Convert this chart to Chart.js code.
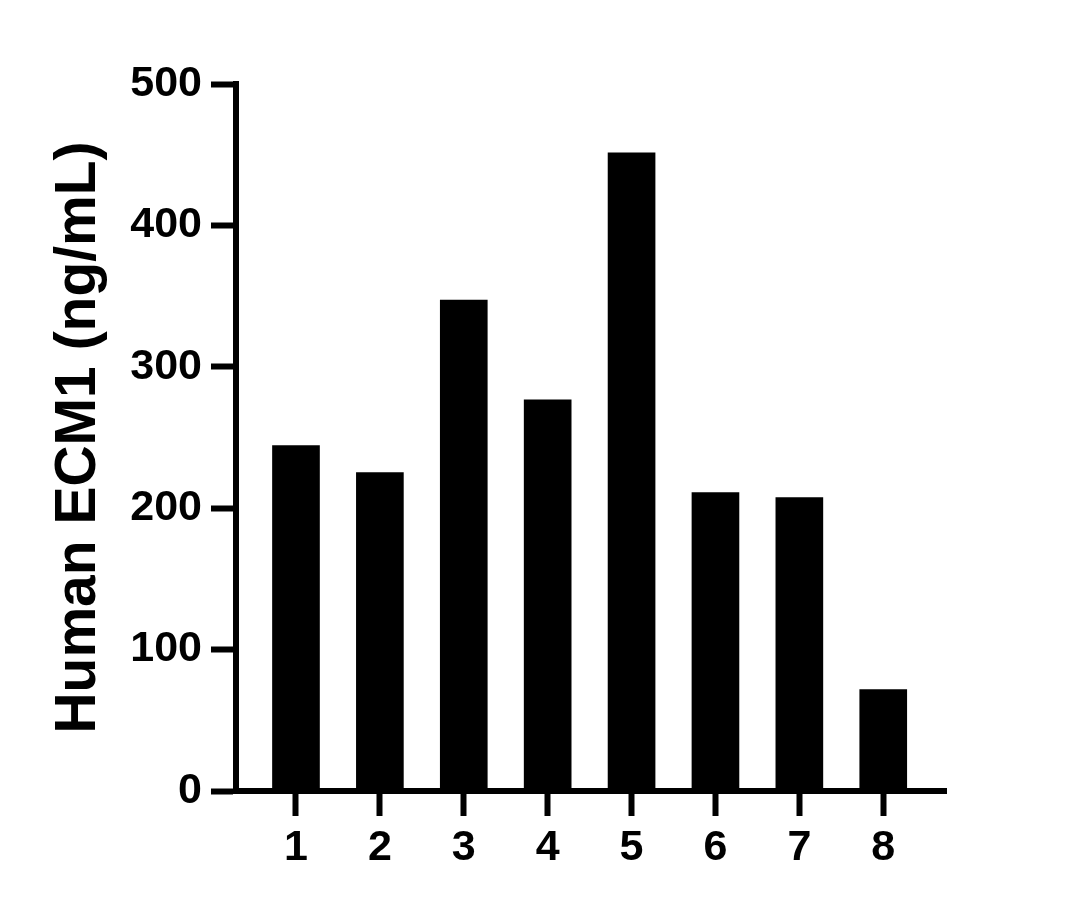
<!DOCTYPE html>
<html>
<head>
<meta charset="utf-8">
<script src="https://cdn.jsdelivr.net/npm/chart.js@4"></script>
<style>
  html, body { margin: 0; padding: 0; background: #ffffff; }
  #wrap { width: 1082px; height: 908px; }
</style>
</head>
<body>
<div id="wrap"><canvas id="c" width="1082" height="908"></canvas></div>
<script>
const categories = [1, 2, 3, 4, 5, 6, 7, 8];
const values = [244.3, 225.2, 347.2, 276.6, 451.3, 211.1, 207.5, 71.7];
const yTicks = [0, 100, 200, 300, 400, 500];
const yTitle = 'Human ECM1 (ng/mL)';

const FONT = "'Liberation Sans', Arial, Helvetica, sans-serif";

const ctx = document.getElementById('c').getContext('2d');
new Chart(ctx, {
  type: 'bar',
  data: {
    datasets: [{
      data: categories.map((c, i) => ({ x: c, y: values[i] })),
      backgroundColor: '#000000',
      borderWidth: 0,
      barThickness: 47
    }]
  },
  options: {
    responsive: false,
    animation: false,
    devicePixelRatio: 1,
    layout: { padding: { left: 0, right: 136, top: 84, bottom: 0 } },
    plugins: { legend: { display: false }, tooltip: { enabled: false } },
    scales: {
      x: {
        type: 'linear',
        min: 0.285,
        max: 8.748,
        offset: false,
        afterFit: (s) => { s.height = 117; },
        afterBuildTicks: (s) => { s.ticks = categories.map(v => ({ value: v })); },
        grid: { display: true, drawOnChartArea: false, offset: false, drawTicks: true, tickLength: 25, tickWidth: 6, tickColor: '#000' },
        border: { display: true, color: '#000', width: 6 },
        ticks: { color: '#000', padding: 6, font: { family: FONT, size: 43, weight: 'bold' }, maxRotation: 0, autoSkip: false }
      },
      y: {
        min: 0,
        max: 500,
        afterFit: (s) => { s.width = 236; },
        afterBuildTicks: (s) => { s.ticks = yTicks.map(v => ({ value: v })); },
        grid: { display: true, drawOnChartArea: false, drawTicks: true, tickLength: 25, tickWidth: 6, tickColor: '#000' },
        border: { display: true, color: '#000', width: 6 },
        ticks: { color: '#000', padding: 9, font: { family: FONT, size: 43, weight: 'bold' } },
        title: {
          display: true,
          text: yTitle,
          color: '#000',
          font: { family: FONT, size: 57, weight: 'bold', lineHeight: 1.2 },
          padding: { top: 45, bottom: 0 }
        }
      }
    }
  }
});
</script>
</body>
</html>
